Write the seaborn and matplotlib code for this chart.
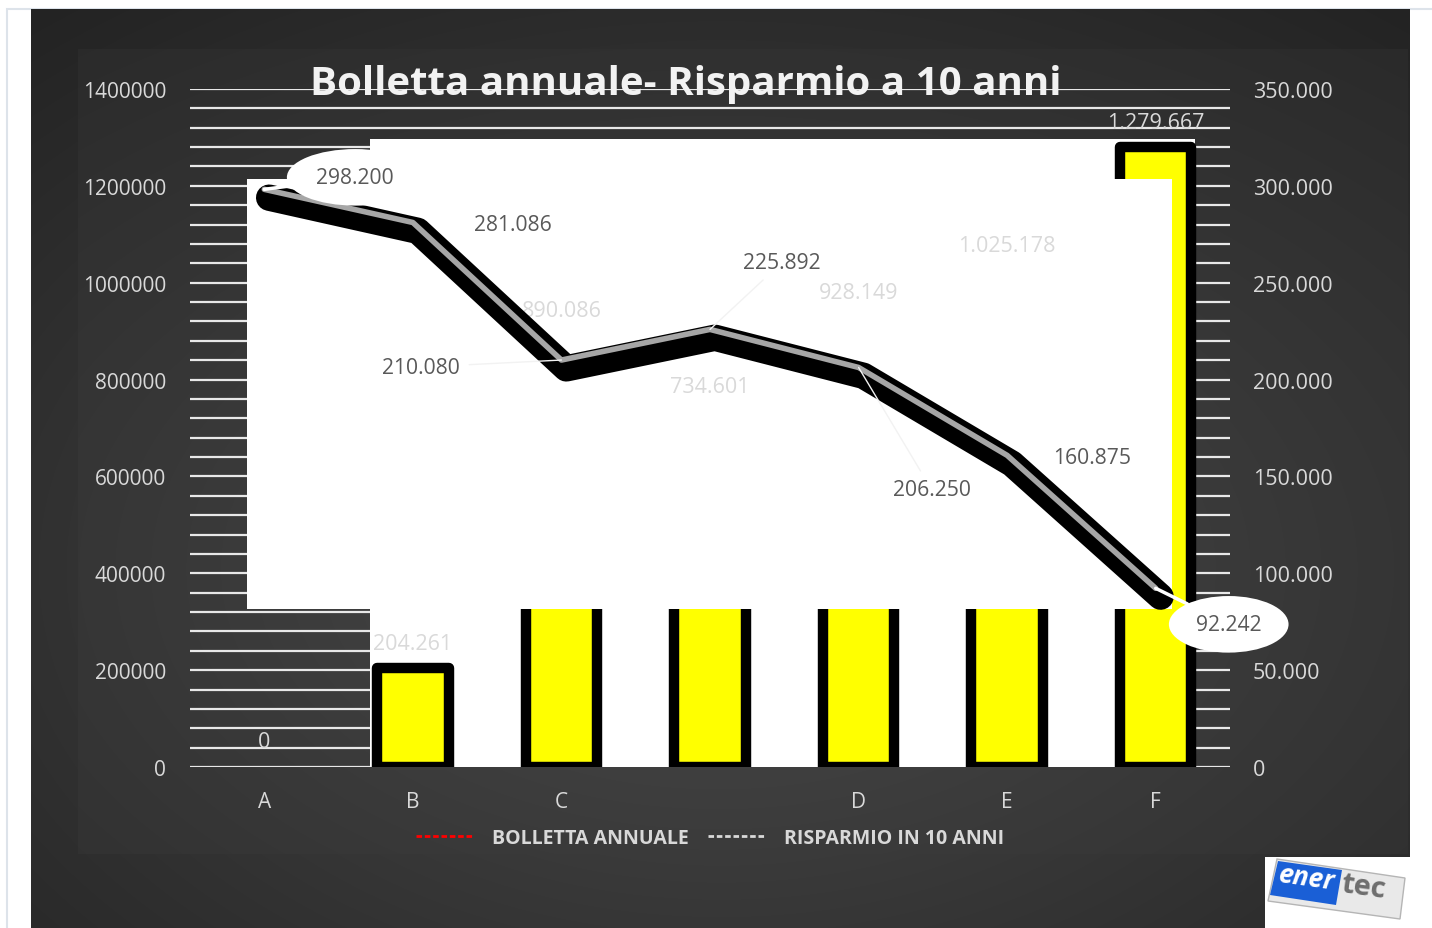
import numpy as np
import pandas as pd
import matplotlib
matplotlib.use("Agg")
import matplotlib.pyplot as plt
import matplotlib.colors as mcolors
import matplotlib.patheffects as pe
import seaborn as sns
from matplotlib.patches import Rectangle, Polygon
from matplotlib.lines import Line2D
from matplotlib.ticker import MultipleLocator, FuncFormatter

# --- data ---
categorie = ["A", "B", "C", " ", "D", "E", "F"]
risparmio_10_anni = [0, 204261, 890086, 734601, 928149, 1025178, 1279667]
bolletta_annuale = [298200, 281086, 210080, 225892, 206250, 160875, 92242]

# label offsets for the bolletta values, in pixels (dx, dy up)
off_bolletta = [(91, 12), (100, -2), (-140, -7), (72, 67), (73, -122), (85, -2), (73, -36)]

W, H = 1432, 929
PT = 0.72  # px -> pt at dpi 100

sns.set_style("white")
plt.rcParams["font.family"] = ["Open Sans", "DejaVu Sans"]

TXT_LIGHT = "#d9d9d9"
TXT_DARK = "#595959"


def it_fmt(v):
    return f"{int(round(v)):,}".replace(",", ".")


def radial(w, h, cx, cy, inner, outer):
    yy, xx = np.mgrid[0:h, 0:w]
    d = np.hypot((xx - cx) / w, (yy - cy) / h)
    d = np.clip(d / d.max(), 0, 1) ** 0.8
    c0 = np.array(mcolors.to_rgb(inner))
    c1 = np.array(mcolors.to_rgb(outer))
    return c0 + (c1 - c0) * d[..., None]


fig = plt.figure(figsize=(W / 100, H / 100), dpi=100)
fig.patch.set_facecolor("white")

# background layer in pixel coordinates
bg = fig.add_axes([0, 0, 1, 1], zorder=-10)
bg.set_xlim(0, W)
bg.set_ylim(H, 0)
bg.axis("off")
bg.add_patch(Rectangle((7, 10), W, H, fc="white", ec="#dde3ea", lw=1.5))
bg.imshow(radial(1379, 919, 690, 560, "#505050", "#232323"),
          extent=(31, 1410, 929, 10), aspect="auto", zorder=1)
bg.imshow(radial(1330, 805, 640, 520, "#4c4c4c", "#2a2a2a"),
          extent=(78, 1408, 855, 50), aspect="auto", zorder=2)

# logo
bg.add_patch(Rectangle((1265, 858), 145, 71, fc="white", ec="none", zorder=3))
bg.add_patch(Polygon([(1277, 860), (1405, 879), (1400, 920), (1268, 902)],
                     closed=True, fc="#e9e9e9", ec="#b5b5b5", lw=1, zorder=4))
bg.add_patch(Polygon([(1278, 862), (1342, 871), (1336, 906), (1270, 896)],
                     closed=True, fc="#1a5fd6", ec="none", zorder=5))
bg.text(1307, 879, "ener", color="white", fontsize=19, fontweight="bold",
        style="italic", ha="center", va="center", rotation=-8, zorder=6)
bg.text(1364, 888, "tec", color="#6e6e6e", fontsize=21, fontweight="bold",
        ha="center", va="center", rotation=-8, zorder=6)

# main axes (bars, left axis)
ax = fig.add_axes([190 / W, (H - 768) / H, 1040 / W, 678 / H])
ax.patch.set_alpha(0)

df = pd.DataFrame({"categoria": categorie, "risparmio": risparmio_10_anni})
sns.barplot(data=df, x="categoria", y="risparmio", ax=ax, color="#ffff00",
            saturation=1, width=0.48, edgecolor="black", linewidth=7.5, zorder=2)
for p in ax.patches:
    p.set_joinstyle("round")
    if p.get_height() == 0:
        p.set_linewidth(0)

ax.set_xlim(-0.5, 6.5)
ax.set_ylim(0, 1400000)
ax.yaxis.set_major_locator(MultipleLocator(200000))
ax.yaxis.set_minor_locator(MultipleLocator(40000))
ax.set_axisbelow(True)
ax.grid(which="both", axis="y", color="#e8e8e8", lw=1.6)
ax.grid(False, axis="x")
for s in ax.spines.values():
    s.set_visible(False)
ax.tick_params(axis="y", which="both", length=0, pad=24 * PT, labelsize=15, labelcolor=TXT_LIGHT)
ax.tick_params(axis="x", length=0, pad=24 * PT, labelsize=15, labelcolor=TXT_LIGHT)
ax.yaxis.set_major_formatter(FuncFormatter(lambda v, _: f"{int(v)}"))
ax.set_xlabel("")
ax.set_ylabel("")

# the white panels that sit in the original chart
ax.add_patch(Rectangle((0.1731, 0), 0.9663 - 0.1731, 0.9263, transform=ax.transAxes,
                       fc="white", ec="none", zorder=1))
ax.add_patch(Rectangle((0.0548, 0.2330), 0.9442 - 0.0548, 0.8673 - 0.2330,
                       transform=ax.transAxes, fc="white", ec="none", zorder=3))

for i, v in enumerate(risparmio_10_anni):
    ax.annotate(it_fmt(v), xy=(i, v), xytext=(0, 25 * PT), textcoords="offset points",
                ha="center", va="center", fontsize=15.5, color=TXT_LIGHT, zorder=4)

# line on the right axis
ax2 = ax.twinx()
ax2.patch.set_alpha(0)
sns.lineplot(x=np.arange(len(bolletta_annuale)), y=bolletta_annuale, ax=ax2,
             color="#a6a6a6", lw=4, solid_capstyle="round", solid_joinstyle="round",
             path_effects=[pe.SimpleLineShadow(offset=(3.5, -6), shadow_color="black",
                                               alpha=1.0, linewidth=19),
                           pe.Normal()])
ax2.set_ylim(0, 350000)
ax2.yaxis.set_major_locator(MultipleLocator(50000))
ax2.yaxis.set_major_formatter(FuncFormatter(lambda v, _: it_fmt(v)))
ax2.tick_params(axis="y", length=0, pad=23 * PT, labelsize=15.5, labelcolor=TXT_LIGHT)
ax2.grid(False)
for s in ax2.spines.values():
    s.set_visible(False)
ax2.set_xlabel("")
ax2.set_ylabel("")

callout = {0, 6}
leader = {2, 3, 4}
for i, (v, (dx, dy)) in enumerate(zip(bolletta_annuale, off_bolletta)):
    kw = {}
    if i in callout:
        kw["bbox"] = dict(boxstyle="ellipse,pad=0.45", fc="white", ec="none")
        kw["arrowprops"] = dict(arrowstyle="-", color="white", lw=2.5, shrinkA=0, shrinkB=0)
    elif i in leader:
        kw["arrowprops"] = dict(arrowstyle="-", color="#f2f2f2", lw=1, shrinkA=4, shrinkB=0)
    ax2.annotate(it_fmt(v), xy=(i, v), xytext=(dx * PT, dy * PT), textcoords="offset points",
                 ha="center", va="center", fontsize=15.2, color=TXT_DARK, **kw)

# title and legend
fig.text(686 / W, 1 - 84 / H, "Bolletta annuale- Risparmio a 10 anni", ha="center",
         va="center", fontsize=29, fontweight="bold", color="#f2f2f2")

handles = [Line2D([], [], color="red", ls=(0, (2, 1)), lw=2),
           Line2D([], [], color=TXT_LIGHT, ls=(0, (2, 1)), lw=2)]
fig.legend(handles, ["BOLLETTA ANNUALE", "RISPARMIO IN 10 ANNI"], loc="center",
           bbox_to_anchor=(710 / W, 1 - 839 / H), ncol=2, frameon=False,
           prop=dict(weight="bold", size=14), labelcolor=TXT_LIGHT,
           handlelength=2.9, columnspacing=1.0, handletextpad=1.0)

fig.savefig("out.png", dpi=100)
